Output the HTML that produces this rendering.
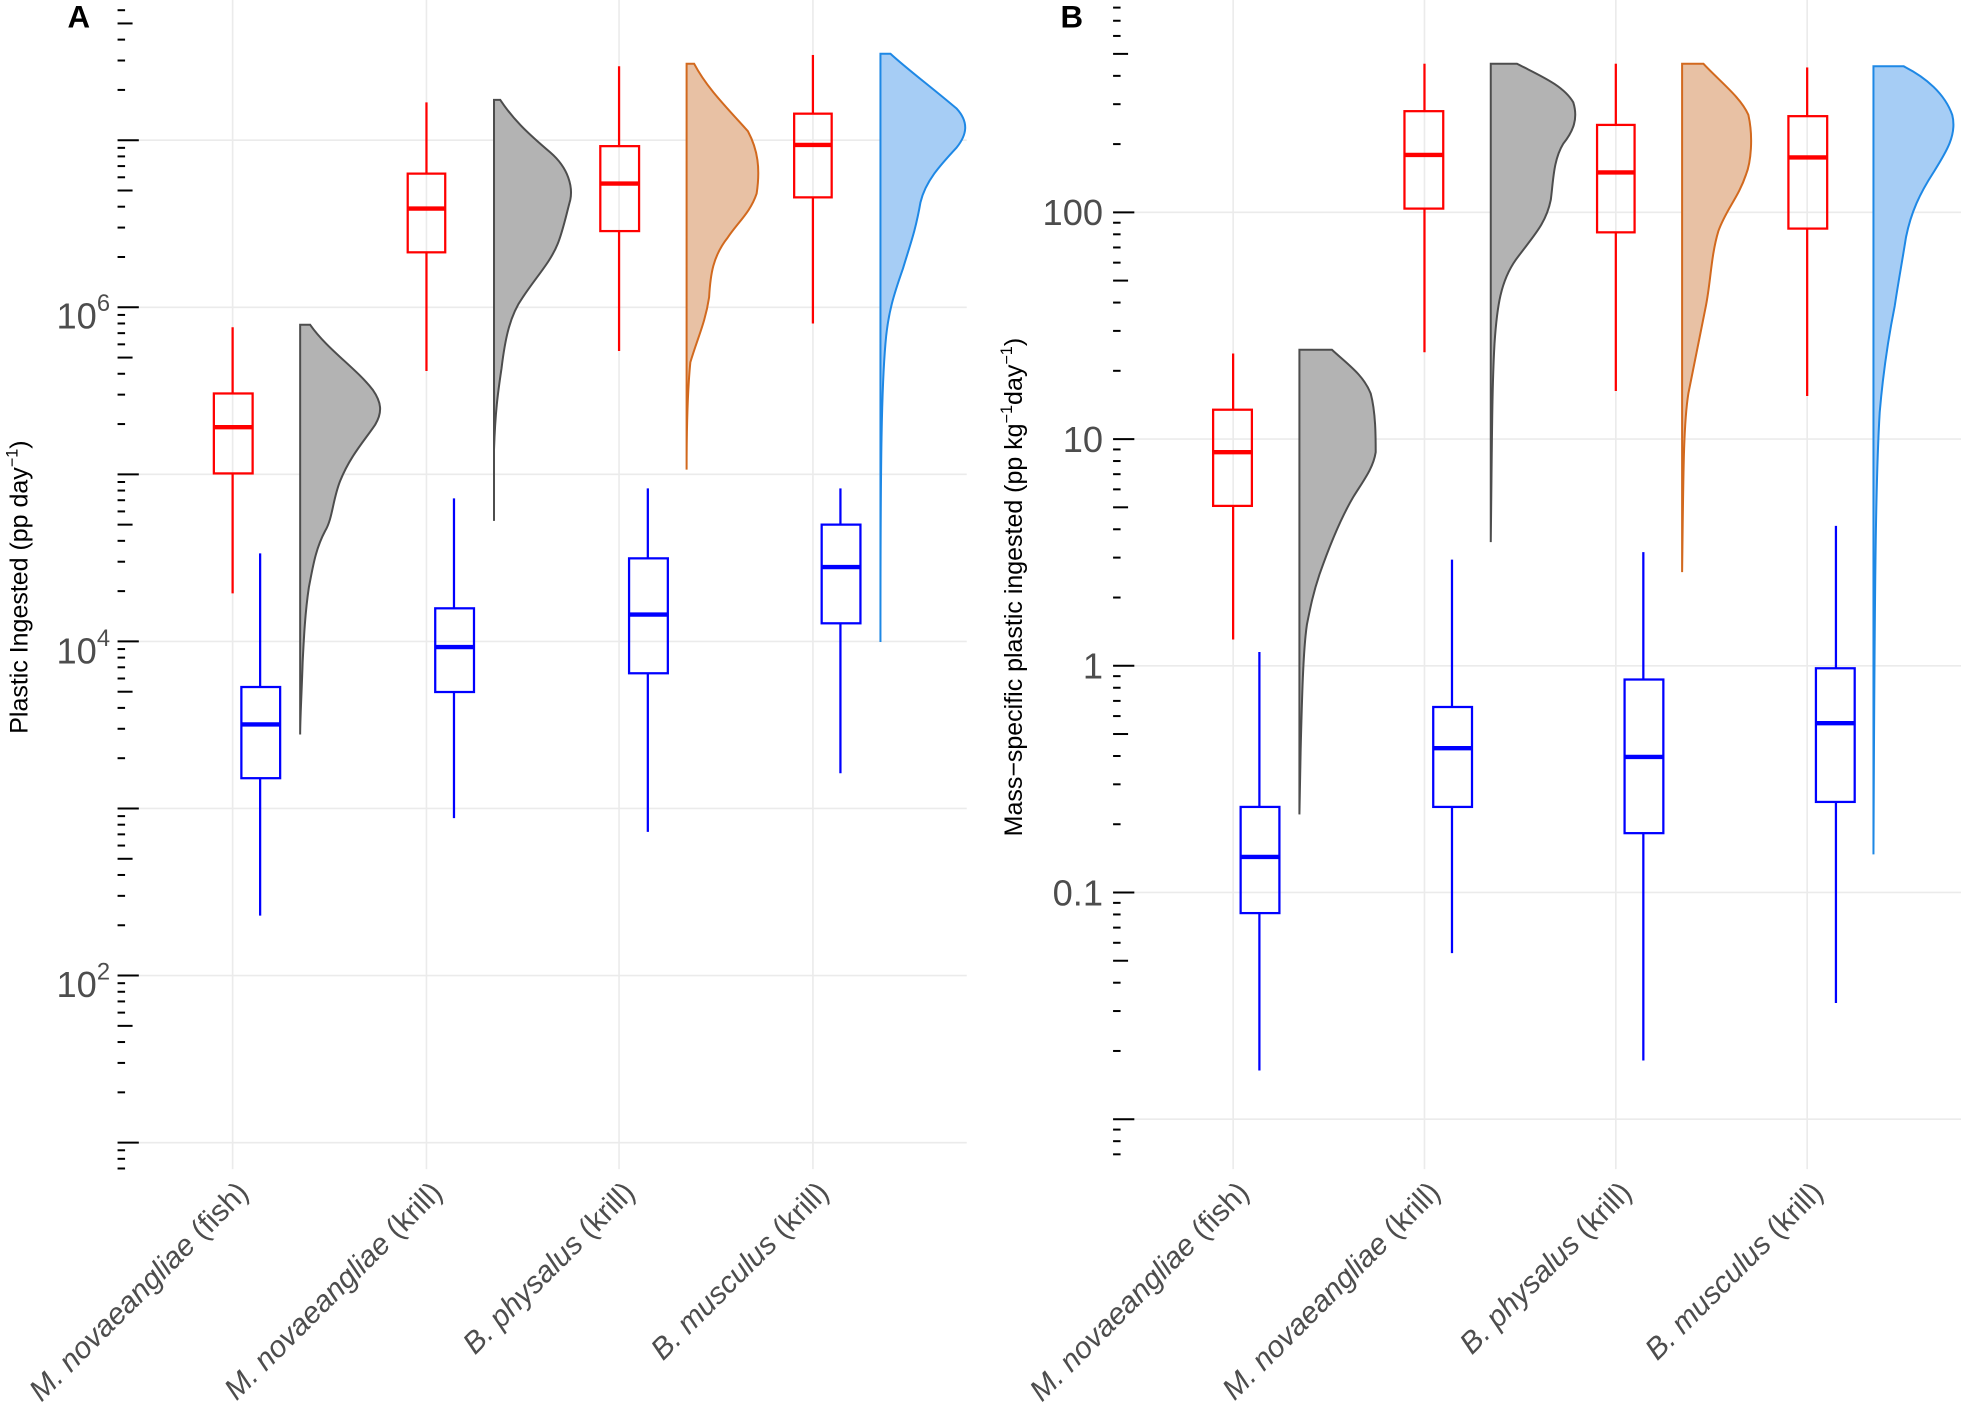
<!DOCTYPE html>
<html><head><meta charset="utf-8"><style>
html,body{margin:0;padding:0;background:#fff;}
svg{display:block;}
text{font-family:"Liberation Sans",Arial,sans-serif;}
</style></head><body>
<svg id="s" width="1961" height="1409" viewBox="0 0 1568 1128" preserveAspectRatio="none" xmlns="http://www.w3.org/2000/svg">
<g id="grid" stroke="#ebebeb" stroke-width="1.3" fill="none">
<line x1="186" y1="0" x2="186" y2="936"/><line x1="341" y1="0" x2="341" y2="936"/><line x1="495" y1="0" x2="495" y2="936"/><line x1="650" y1="0" x2="650" y2="936"/>
<line x1="986" y1="0" x2="986" y2="936"/><line x1="1139" y1="0" x2="1139" y2="936"/><line x1="1292" y1="0" x2="1292" y2="936"/><line x1="1445" y1="0" x2="1445" y2="936"/>
</g>
<g id="ticks" stroke="#000" stroke-width="1.6"></g>

<g stroke-width="1.6">
<path d="M240,260 L248,260 C262,280 285,295 298,312 C305,322 306,330 300,340 C292,352 280,365 272,385 C266,400 266,415 260,425 C252,440 250,455 247,470 C244,490 243,510 242,530 C241,560 240,575 240,588 Z" fill="#b3b3b3" stroke="#4d4d4d"/>
<path d="M395,80 L400,80 C410,95 420,105 440,122 C455,135 458,150 456,160 C452,175 450,185 446,195 C440,210 430,220 418,238 C408,252 404,270 401,295 C398,315 396,330 395,360 L395,417 Z" fill="#b3b3b3" stroke="#4d4d4d"/>
<path d="M549,51 L555,51 C565,70 580,85 598,105 C606,120 608,135 605,155 C600,170 590,178 582,190 C570,205 568,220 567,238 C564,258 558,270 552,290 C550,310 549,340 549,376 Z" fill="#e8c1a4" stroke="#d2691e"/>
<path d="M704,43 L712,43 C725,55 745,70 765,87 C775,98 773,108 765,118 C752,132 740,145 736,162 C732,185 728,195 722,215 C715,235 710,250 708,275 C705,310 704,360 704,514 Z" fill="#a6cdf5" stroke="#1e88e5"/>
</g>
<g fill="none" stroke-width="1.8">
<g stroke="#ff0000">
<line x1="186" y1="262" x2="186" y2="315"/><line x1="186" y1="379" x2="186" y2="475"/><rect x="171" y="315" width="31" height="64"/><line x1="171" y1="342" x2="202" y2="342" stroke-width="3.5"/>
<line x1="341" y1="82" x2="341" y2="139"/><line x1="341" y1="202" x2="341" y2="297"/><rect x="326" y="139" width="30" height="63"/><line x1="326" y1="167" x2="356" y2="167" stroke-width="3.5"/>
<line x1="495" y1="53" x2="495" y2="117"/><line x1="495" y1="185" x2="495" y2="281"/><rect x="480" y="117" width="31" height="68"/><line x1="480" y1="147" x2="511" y2="147" stroke-width="3.5"/>
<line x1="650" y1="44" x2="650" y2="91"/><line x1="650" y1="158" x2="650" y2="259"/><rect x="635" y="91" width="30" height="67"/><line x1="635" y1="116" x2="665" y2="116" stroke-width="3.5"/>
</g>
<g stroke="#0000ff">
<line x1="208" y1="443" x2="208" y2="550"/><line x1="208" y1="623" x2="208" y2="733"/><rect x="193" y="550" width="31" height="73"/><line x1="193" y1="580" x2="224" y2="580" stroke-width="3.5"/>
<line x1="363" y1="399" x2="363" y2="487"/><line x1="363" y1="554" x2="363" y2="655"/><rect x="348" y="487" width="31" height="67"/><line x1="348" y1="518" x2="379" y2="518" stroke-width="3.5"/>
<line x1="518" y1="391" x2="518" y2="447"/><line x1="518" y1="539" x2="518" y2="666"/><rect x="503" y="447" width="31" height="92"/><line x1="503" y1="492" x2="534" y2="492" stroke-width="3.5"/>
<line x1="672" y1="391" x2="672" y2="420"/><line x1="672" y1="499" x2="672" y2="619"/><rect x="657" y="420" width="31" height="79"/><line x1="657" y1="454" x2="688" y2="454" stroke-width="3.5"/>
</g>
</g>

<g stroke-width="1.6">
<path d="M1039,280 L1065,280 C1078,292 1090,300 1096,315 C1100,330 1100,350 1100,362 C1098,375 1090,385 1082,398 C1072,415 1062,440 1055,460 C1050,475 1048,485 1045,500 C1042,520 1041,560 1040,600 L1039,652 Z" fill="#b3b3b3" stroke="#4d4d4d"/>
<path d="M1192,51 L1213,51 C1230,60 1250,68 1258,82 C1262,95 1258,105 1250,115 C1242,128 1242,145 1240,160 C1236,180 1225,190 1212,208 C1200,225 1197,245 1195,275 C1193,310 1193,350 1192,434 Z" fill="#b3b3b3" stroke="#4d4d4d"/>
<path d="M1345,51 L1362,51 C1375,65 1392,78 1398,92 C1402,110 1400,130 1396,140 C1390,158 1380,168 1374,185 C1368,205 1368,225 1364,245 C1360,265 1355,290 1350,315 C1346,340 1346,380 1345,458 Z" fill="#e8c1a4" stroke="#d2691e"/>
<path d="M1498,53 L1522,53 C1540,62 1555,75 1561,92 C1565,108 1556,122 1546,138 C1535,155 1528,170 1524,190 C1520,215 1518,225 1515,245 C1510,270 1506,295 1503,330 C1500,380 1499,450 1498,684 Z" fill="#a6cdf5" stroke="#1e88e5"/>
</g>
<g fill="none" stroke-width="1.8">
<g stroke="#ff0000">
<line x1="986" y1="283" x2="986" y2="328"/><line x1="986" y1="405" x2="986" y2="512"/><rect x="970" y="328" width="31" height="77"/><line x1="970" y1="362" x2="1001" y2="362" stroke-width="3.5"/>
<line x1="1139" y1="51" x2="1139" y2="89"/><line x1="1139" y1="167" x2="1139" y2="282"/><rect x="1123" y="89" width="31" height="78"/><line x1="1123" y1="124" x2="1154" y2="124" stroke-width="3.5"/>
<line x1="1292" y1="51" x2="1292" y2="100"/><line x1="1292" y1="186" x2="1292" y2="313"/><rect x="1277" y="100" width="30" height="86"/><line x1="1277" y1="138" x2="1307" y2="138" stroke-width="3.5"/>
<line x1="1445" y1="54" x2="1445" y2="93"/><line x1="1445" y1="183" x2="1445" y2="317"/><rect x="1430" y="93" width="31" height="90"/><line x1="1430" y1="126" x2="1461" y2="126" stroke-width="3.5"/>
</g>
<g stroke="#0000ff">
<line x1="1007" y1="522" x2="1007" y2="646"/><line x1="1007" y1="731" x2="1007" y2="857"/><rect x="992" y="646" width="31" height="85"/><line x1="992" y1="686" x2="1023" y2="686" stroke-width="3.5"/>
<line x1="1161" y1="448" x2="1161" y2="566"/><line x1="1161" y1="646" x2="1161" y2="763"/><rect x="1146" y="566" width="31" height="80"/><line x1="1146" y1="599" x2="1177" y2="599" stroke-width="3.5"/>
<line x1="1314" y1="442" x2="1314" y2="544"/><line x1="1314" y1="667" x2="1314" y2="849"/><rect x="1299" y="544" width="31" height="123"/><line x1="1299" y1="606" x2="1330" y2="606" stroke-width="3.5"/>
<line x1="1468" y1="421" x2="1468" y2="535"/><line x1="1468" y1="642" x2="1468" y2="803"/><rect x="1452" y="535" width="31" height="107"/><line x1="1452" y1="579" x2="1483" y2="579" stroke-width="3.5"/>
</g>
</g>

<text x="54" y="22" font-size="25" font-weight="bold">A</text>
<text x="848" y="22" font-size="25" font-weight="bold">B</text>
<g fill="#4d4d4d" font-size="29" text-anchor="end">
<text x="88" y="263">10<tspan font-size="19" dy="-14">6</tspan></text>
<text x="88" y="531">10<tspan font-size="19" dy="-14">4</tspan></text>
<text x="88" y="798">10<tspan font-size="19" dy="-14">2</tspan></text>
<text x="882" y="180">100</text>
<text x="882" y="362">10</text>
<text x="882" y="543">1</text>
<text x="882" y="725">0.1</text>
</g>
<text transform="translate(22,470) rotate(-90)" font-size="20" text-anchor="middle">Plastic Ingested (pp day<tspan font-size="13" dy="-8">−1</tspan><tspan dy="8">)</tspan></text>
<text transform="translate(817,470) rotate(-90)" font-size="20" text-anchor="middle">Mass−specific plastic ingested (pp kg<tspan font-size="13" dy="-8">−1</tspan><tspan dy="8">day</tspan><tspan font-size="13" dy="-8">−1</tspan><tspan dy="8">)</tspan></text>
<g fill="#4d4d4d" font-size="24" text-anchor="end">
<text transform="translate(200,956) rotate(-45)"><tspan font-style="italic">M. novaeangliae</tspan> (fish)</text>
<text transform="translate(355,956) rotate(-45)"><tspan font-style="italic">M. novaeangliae</tspan> (krill)</text>
<text transform="translate(509,956) rotate(-45)"><tspan font-style="italic">B. physalus</tspan> (krill)</text>
<text transform="translate(664,956) rotate(-45)"><tspan font-style="italic">B. musculus</tspan> (krill)</text>
<text transform="translate(1000,956) rotate(-45)"><tspan font-style="italic">M. novaeangliae</tspan> (fish)</text>
<text transform="translate(1153,956) rotate(-45)"><tspan font-style="italic">M. novaeangliae</tspan> (krill)</text>
<text transform="translate(1306,956) rotate(-45)"><tspan font-style="italic">B. physalus</tspan> (krill)</text>
<text transform="translate(1459,956) rotate(-45)"><tspan font-style="italic">B. musculus</tspan> (krill)</text>
</g>
</svg>
<script>
(function(){
var NS="http://www.w3.org/2000/svg";
var grid=document.getElementById("grid"),ticks=document.getElementById("ticks");
function ln(g,x1,y1,x2,y2){var l=document.createElementNS(NS,"line");l.setAttribute("x1",x1);l.setAttribute("y1",y1);l.setAttribute("x2",x2);l.setAttribute("y2",y2);g.appendChild(l);}
function axis(y0,dec,x0,xr,lo,hi){
 for(var d=lo;d<=hi;d++){
  for(var k=1;k<=9;k++){
   var y=y0-(d+Math.log10(k))*dec;
   if(y<2||y>936)continue;
   var len=k==1?17:(k==5?12:6);
   ln(ticks,x0,y,x0+len,y);
   if(k==1)ln(grid,x0+2,y,xr,y);
  }
 }
}
axis(246+6*133.75,133.75,94,773,0,8);
axis(533,181.5,890,1568,-3,3);
})();
</script>
</body></html>
